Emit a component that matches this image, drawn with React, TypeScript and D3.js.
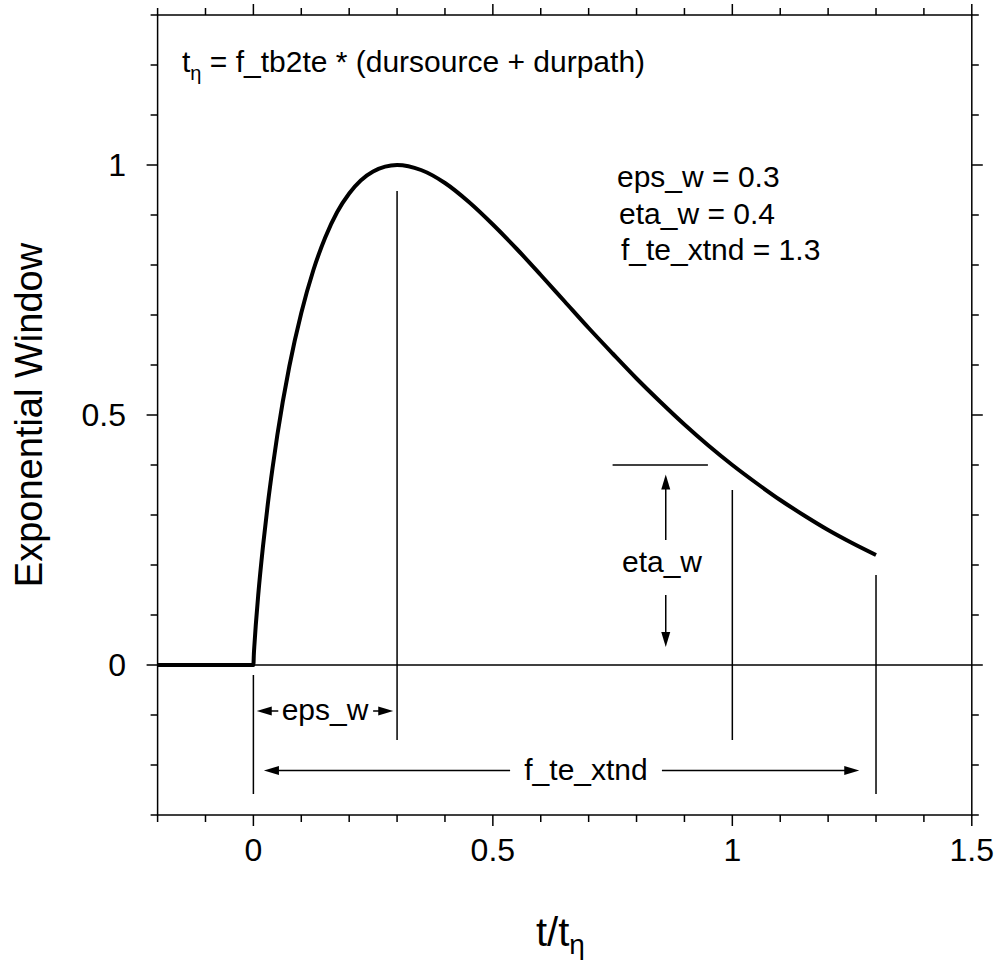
import React from "react";
import * as d3 from "d3";

// Exponential window curve (eps_w = 0.3, eta_w = 0.4, f_te_xtnd = 1.3)
const curveX = [-0.2, 0, 0.001, 0.002, 0.005, 0.01, 0.02, 0.03, 0.04, 0.05, 0.075, 0.1, 0.125, 0.15, 0.175, 0.2, 0.25, 0.3, 0.35, 0.4, 0.45, 0.5, 0.55, 0.6, 0.65, 0.7, 0.75, 0.8, 0.85, 0.9, 0.95, 1.0, 1.05, 1.1, 1.15, 1.2, 1.25, 1.3];
const curveY = [0, 0, 0.022, 0.038, 0.080, 0.139, 0.237, 0.321, 0.394, 0.460, 0.597, 0.704, 0.789, 0.855, 0.906, 0.943, 0.987, 1.0, 0.990, 0.964, 0.926, 0.881, 0.832, 0.780, 0.727, 0.674, 0.623, 0.573, 0.526, 0.481, 0.439, 0.400, 0.364, 0.330, 0.299, 0.270, 0.244, 0.220];

const xMajorTicks = [0, 0.5, 1, 1.5];
const xTickLabels = ["0", "0.5", "1", "1.5"];
const xMinorTicks = [-0.2, -0.1, 0.1, 0.2, 0.3, 0.4, 0.6, 0.7, 0.8, 0.9, 1.1, 1.2, 1.3, 1.4];
const yMajorTicks = [0, 0.5, 1];
const yTickLabels = ["0", "0.5", "1"];
const yMinorTicks = [-0.3, -0.2, -0.1, 0.1, 0.2, 0.3, 0.4, 0.6, 0.7, 0.8, 0.9, 1.1, 1.2, 1.3];

// annotation segments in data units: [x1, y1, x2, y2]
const guideLines = [
  [0, -0.02, 0, -0.258],
  [0.3, 0.948, 0.3, -0.15],
  [1.0, 0.35, 1.0, -0.15],
  [1.3, 0.18, 1.3, -0.258],
  [0.75, 0.4, 0.949, 0.4],
];
// arrows: [tailX, tailY, tipX, tipY]
const arrows = [
  [0.052, -0.092, 0.007, -0.092],
  [0.25, -0.092, 0.292, -0.092],
  [0.536, -0.211, 0.022, -0.211],
  [0.853, -0.211, 1.265, -0.211],
  [0.861, 0.25, 0.861, 0.381],
  [0.861, 0.14, 0.861, 0.036],
];
const paramLines = ["eps_w = 0.3", "eta_w = 0.4", "f_te_xtnd = 1.3"];

const W = 1001;
const H = 966;
const FONT = "'Liberation Sans', Arial, Helvetica, sans-serif";

export default function App() {
  const x = d3.scaleLinear().domain([-0.2, 1.5]).range([157.6, 971.8]);
  const y = d3.scaleLinear().domain([-0.3, 1.3]).range([815, 15]);
  const pts = curveX.map((v, i) => [v, curveY[i]] as [number, number]);
  const line = d3
    .line<[number, number]>()
    .x((d) => x(d[0]))
    .y((d) => y(d[1]))
    .curve(d3.curveMonotoneX);

  const L = x.range()[0];
  const R = x.range()[1];
  const T = y.range()[1];
  const B = y.range()[0];
  const MAJ = 11;
  const MIN = 7;
  const sw = 1.5;

  const arrowHead = (a: number[], k: number) => {
    const tx = x(a[2]);
    const ty = y(a[3]);
    const dx = tx - x(a[0]);
    const dy = ty - y(a[1]);
    const len = Math.hypot(dx, dy);
    const ux = dx / len;
    const uy = dy / len;
    const hl = 15;
    const hw = 4.5;
    const bx = tx - ux * hl;
    const by = ty - uy * hl;
    const p = `${tx},${ty} ${bx - uy * hw},${by + ux * hw} ${bx + uy * hw},${by - ux * hw}`;
    return (
      <g key={"ar" + k}>
        <line x1={x(a[0])} y1={y(a[1])} x2={bx + ux * 2} y2={by + uy * 2} stroke="#000" strokeWidth={sw} />
        <polygon points={p} fill="#000" />
      </g>
    );
  };

  return (
    <svg width={W} height={H} style={{ position: "absolute", left: 0, top: 0, background: "#fff" }} fontFamily={FONT}>
      <rect x={0} y={0} width={W} height={H} fill="#fff" />
      {/* zero line */}
      <line x1={L} x2={R} y1={y(0)} y2={y(0)} stroke="#000" strokeWidth={sw} />
      {/* frame */}
      <rect x={L} y={T} width={R - L} height={B - T} fill="none" stroke="#000" strokeWidth={sw} />
      {/* x ticks bottom & top */}
      {xMajorTicks.map((t) => (
        <g key={"xM" + t}>
          <line x1={x(t)} x2={x(t)} y1={B} y2={B + MAJ} stroke="#000" strokeWidth={sw} />
          <line x1={x(t)} x2={x(t)} y1={T} y2={T - MAJ} stroke="#000" strokeWidth={sw} />
        </g>
      ))}
      {xMinorTicks.map((t) => (
        <g key={"xm" + t}>
          <line x1={x(t)} x2={x(t)} y1={B} y2={B + MIN} stroke="#000" strokeWidth={sw} />
          <line x1={x(t)} x2={x(t)} y1={T} y2={T - MIN} stroke="#000" strokeWidth={sw} />
        </g>
      ))}
      {/* y ticks left & right */}
      {yMajorTicks.map((t) => (
        <g key={"yM" + t}>
          <line y1={y(t)} y2={y(t)} x1={L} x2={L - MAJ} stroke="#000" strokeWidth={sw} />
          <line y1={y(t)} y2={y(t)} x1={R} x2={R + MAJ} stroke="#000" strokeWidth={sw} />
        </g>
      ))}
      {yMinorTicks.map((t) => (
        <g key={"ym" + t}>
          <line y1={y(t)} y2={y(t)} x1={L} x2={L - MIN} stroke="#000" strokeWidth={sw} />
          <line y1={y(t)} y2={y(t)} x1={R} x2={R + MIN} stroke="#000" strokeWidth={sw} />
        </g>
      ))}
      {/* tick labels */}
      {xMajorTicks.map((t, i) => (
        <text key={"xl" + t} x={x(t)} y={861} fontSize={32} textAnchor="middle">
          {xTickLabels[i]}
        </text>
      ))}
      {yMajorTicks.map((t, i) => (
        <text key={"yl" + t} x={126} y={y(t) + 11} fontSize={32} textAnchor="end">
          {yTickLabels[i]}
        </text>
      ))}
      {/* axis titles */}
      <text transform="translate(42,415) rotate(-90)" fontSize={38} textAnchor="middle">
        Exponential Window
      </text>
      <text x={536} y={946} fontSize={40} style={{ whiteSpace: "pre" }}>
        t/t<tspan fontSize={28} dy={8}>η</tspan>
      </text>
      {/* curve */}
      <path d={line(pts) || ""} fill="none" stroke="#000" strokeWidth={4} strokeLinejoin="round" />
      {/* guide lines */}
      {guideLines.map((g, i) => (
        <line key={"g" + i} x1={x(g[0])} y1={y(g[1])} x2={x(g[2])} y2={y(g[3])} stroke="#000" strokeWidth={sw} />
      ))}
      {arrows.map((a, i) => arrowHead(a, i))}
      {/* annotation labels */}
      <text x={325} y={720} fontSize={30} textAnchor="middle">eps_w</text>
      <text x={586} y={780} fontSize={30} textAnchor="middle">f_te_xtnd</text>
      <text x={662} y={572} fontSize={30} textAnchor="middle">eta_w</text>
      {/* top formula */}
      <text x={182} y={72} fontSize={30} style={{ whiteSpace: "pre" }}>
        t<tspan fontSize={20} dy={8}>η</tspan>
        <tspan dy={-8}> = f_tb2te * (dursource + durpath)</tspan>
      </text>
      {/* parameters */}
      {paramLines.map((s, i) => (
        <text key={"p" + i} x={617 + i * 2} y={187 + i * 36.5} fontSize={30}>
          {s}
        </text>
      ))}
    </svg>
  );
}
